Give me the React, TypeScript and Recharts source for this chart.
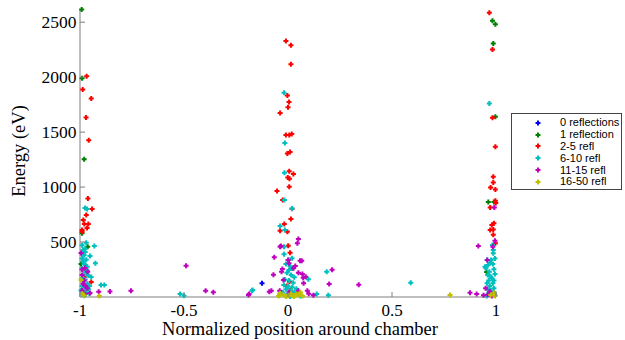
import React from 'react';
import { ScatterChart, Scatter, XAxis, YAxis } from 'recharts';

const xTicks = [-1, -0.5, 0, 0.5, 1];
const xTickLabels: Record<string, string> = { '-1': '-1', '-0.5': '-0.5', '0': '0', '0.5': '0.5', '1': '1' };
const yTicks = [500, 1000, 1500, 2000, 2500];
const xDomain = [-1, 1];
const yDomain = [0, 2620];

const seriesNames = ['0 reflections', '1 reflection', '2-5 refl', '6-10 refl', '11-15 refl', '16-50 refl'];
const seriesColors = ['#0000ff', '#008000', '#ff0000', '#00bfbf', '#bf00bf', '#bfbf00'];

const refl0: [number, number][] = [[-0.125, 124]];

const refl1: [number, number][] = [
  [-0.992, 2615], [-0.99, 1990], [-0.98, 1254], [-0.99, 579], [-0.963, 457], [-0.995, 300],
  [0.983, 2512], [0.997, 2482], [0.987, 2306], [0.997, 1639], [0.963, 864], [0.99, 864], [0.955, 228],
];

const refl2to5: [number, number][] = [
  [-0.968, 2009], [-0.987, 1888], [-0.946, 1806], [-0.971, 1633], [-0.958, 1427], [-0.962, 897],
  [-0.942, 800], [-0.97, 745], [-0.984, 700], [-0.979, 663], [-0.96, 663], [-0.966, 627],
  [-0.99, 609], [-0.99, 594], [-0.946, 136], [-0.98, 182],
  [-0.01, 2330], [0.014, 2290], [0.014, 2118], [-0.003, 1833], [0.005, 1775], [0.0, 1727],
  [-0.038, 1675], [-0.01, 1473], [0.006, 1473], [0.018, 1482], [-0.003, 1306], [0.01, 1318],
  [0.006, 1145], [0.026, 1118], [-0.001, 1088], [0.007, 1076], [0.006, 1003], [-0.053, 964],
  [-0.026, 882], [0.0195, 803], [0.014, 709], [-0.018, 663], [-0.038, 603], [-0.003, 594],
  [0.001, 466], [0.01, 403], [0.007, 139], [0.01, 60], [-0.005, 100],
  [0.968, 2585], [0.983, 2252], [0.983, 1630], [0.997, 1366], [0.987, 1094], [0.987, 1042],
  [0.974, 997], [0.997, 979], [0.997, 876], [0.999, 855], [0.972, 815], [0.98, 654],
  [0.99, 670], [0.972, 609], [0.987, 615], [0.987, 566], [0.997, 488],
];

const refl6to10: [number, number][] = [
  [-0.976, 810], [-0.966, 800], [-0.931, 464], [-0.926, 306], [-0.899, 109], [-0.883, 109],
  [-0.952, 373], [-0.946, 182], [-0.97, 494],
  [-0.99, 470], [-0.985, 430], [-0.975, 410], [-0.98, 380], [-0.99, 350], [-0.97, 340],
  [-0.985, 320], [-0.975, 290], [-0.965, 275], [-0.99, 260], [-0.98, 240], [-0.97, 220],
  [-0.985, 200], [-0.96, 195], [-0.99, 170], [-0.975, 160], [-0.985, 140], [-0.965, 120],
  [-0.99, 100], [-0.975, 85], [-0.96, 70], [-0.985, 55], [-0.97, 40], [-0.99, 25],
  [-0.98, 12], [-0.955, 30], [-0.995, 60], [-0.98, 300], [-0.975, 440], [-0.99, 390],
  [-0.965, 240], [-0.955, 100],
  [-0.019, 1857], [-0.015, 1400], [-0.017, 1130], [-0.017, 882], [0.0195, 806],
  [-0.038, 645], [-0.015, 609], [-0.019, 457], [-0.019, 388], [0.0195, 352], [0.001, 336],
  [0.005, 245], [0.098, 161], [0.186, 230], [-0.17, 64], [0.138, 27], [0.194, 15],
  [-0.519, 27], [-0.5, 12], [-0.173, 57], [0.59, 130],
  [-0.01, 300], [0.01, 280], [0.02, 260], [-0.005, 220], [0.015, 200], [0.03, 180],
  [-0.015, 160], [0.005, 150], [0.025, 130], [-0.02, 110], [0.0, 95], [0.02, 88],
  [0.04, 75], [-0.01, 70], [0.01, 55], [0.03, 45], [-0.025, 40], [0.0, 30], [0.05, 25],
  [-0.04, 20], [0.02, 15], [0.01, 5], [0.06, 10], [-0.01, 10],
  [0.968, 1760], [0.983, 473], [0.987, 427], [0.987, 397], [0.976, 336], [0.958, 336],
  [0.947, 276], [0.962, 291], [0.968, 230], [0.99, 252], [0.951, 261], [0.975, 185],
  [0.98, 170], [0.985, 124], [0.957, 124], [0.97, 100], [0.99, 80], [0.96, 70],
  [0.975, 60], [0.99, 45], [0.965, 35], [0.98, 25], [0.995, 15], [0.955, 10],
  [0.985, 300], [0.995, 350], [0.97, 310], [0.96, 200], [0.995, 210], [0.99, 150], [0.965, 150],
];

const refl11to15: [number, number][] = [
  [-0.995, 400], [-0.976, 264], [-0.963, 230], [-0.974, 100], [-0.952, 36], [-0.91, 48],
  [-0.856, 50], [-0.755, 57], [-0.99, 250], [-0.98, 150], [-0.99, 200], [-0.975, 27],
  [-0.99, 60], [-0.965, 80], [-0.985, 120],
  [-0.49, 285], [-0.396, 57], [-0.359, 43], [-0.187, 27], [-0.09, 48], [-0.066, 361],
  [-0.07, 203], [-0.034, 464], [0.05, 527], [0.045, 488], [-0.038, 457], [0.001, 336],
  [0.058, 330], [0.066, 330], [0.035, 282], [0.005, 306], [-0.027, 255], [-0.031, 230],
  [0.026, 261], [0.05, 221], [0.069, 209], [0.073, 176], [0.085, 185], [0.093, 57],
  [0.075, 124], [-0.022, 155], [0.212, 248], [0.198, 118], [0.34, 112], [-0.19, 18],
  [0.122, 15], [-0.08, 57], [-0.04, 57], [0.05, 57], [0.01, 27], [0.005, 40], [0.1, 30],
  [0.915, 464], [0.875, 39], [0.907, 27], [0.992, 815], [0.995, 512], [0.985, 457],
  [0.958, 336], [0.95, 79], [0.97, 50], [0.99, 30], [0.96, 20], [0.98, 10], [0.94, 15],
];

const refl16to50: [number, number][] = [
  [-0.907, 9], [-0.995, 155], [-0.99, 30], [-0.98, 15],
  [-0.038, 33], [-0.022, 18], [0.04, 27], [0.054, 18], [0.0, 12], [0.02, 10], [-0.01, 5],
  [0.03, 5], [0.07, 10], [-0.045, 10], [0.06, 40], [0.015, 30],
  [0.779, 18], [0.99, 39], [0.975, 18], [0.995, 8],
];

const seriesData = [refl0, refl1, refl2to5, refl6to10, refl11to15, refl16to50];

const toPts = (a: [number, number][]) => a.map(([x, y]) => ({ x, y }));

const AXIS_GRAY = '#7f7f7f';
const SERIF = '"Liberation Serif", "Times New Roman", serif';
const SANS = '"Liberation Sans", Arial, sans-serif';

const plusPath = (cx: number, cy: number) =>
  `M${cx - 1},${cy - 2.5}h2v1.5h1.5v2h-1.5v1.5h-2v-1.5h-1.5v-2h1.5z`;

const PlusShape = (props: any) => {
  const { cx, cy, fill } = props;
  if (cx == null || cy == null) return null;
  return <path d={plusPath(cx, cy)} fill={fill} stroke="none" />;
};

const LeftTick = (props: any) => {
  const { x, y, payload } = props;
  const ax = x + 3;
  return (
    <g>
      <line x1={ax} x2={ax + 5} y1={y} y2={y} stroke={AXIS_GRAY} />
      <text x={x - 0.5} y={y} dy="0.36em" textAnchor="end" fontFamily={SERIF} fontSize={17.5} fill="#000">
        {payload.value}
      </text>
    </g>
  );
};

const RightTick = (props: any) => {
  const { x, y } = props;
  return <line x1={x} x2={x - 5} y1={y} y2={y} stroke={AXIS_GRAY} />;
};

const BottomTick = (props: any) => {
  const { x, y, payload } = props;
  const lbl = xTickLabels[String(payload.value)] ?? String(payload.value);
  return (
    <g>
      <line x1={x} x2={x} y1={y} y2={y - 5} stroke={AXIS_GRAY} />
      <text x={x} y={y + 18.5} textAnchor="middle" fontFamily={SERIF} fontSize={17} fill="#000">
        {lbl}
      </text>
    </g>
  );
};

const TopTick = (props: any) => {
  const { x, y } = props;
  return <line x1={x} x2={x} y1={y} y2={y + 5} stroke={AXIS_GRAY} />;
};

const XLabel = (props: any) => {
  const vb = props.viewBox || {};
  return (
    <text x={vb.x + vb.width / 2 + 12} y={335} textAnchor="middle" fontFamily={SERIF} fontSize={18.5} fill="#000">
      Normalized position around chamber
    </text>
  );
};

const YLabel = (props: any) => {
  const vb = props.viewBox || {};
  const cy = vb.y + vb.height / 2 - 2;
  return (
    <text x={24.5} y={cy} transform={`rotate(-90, 24.5, ${cy})`} textAnchor="middle" fontFamily={SERIF} fontSize={18.5} fill="#000">
      Energy (eV)
    </text>
  );
};

const LegendBox = () => (
  <div
    style={{
      position: 'absolute',
      left: 511,
      top: 113,
      width: 111,
      height: 77,
      border: '1px solid #444',
      background: '#fff',
      boxSizing: 'border-box',
      paddingTop: 3,
    }}
  >
    {seriesNames.map((n, i) => (
      <div key={n} style={{ height: 11.8, display: 'flex', alignItems: 'center', position: 'relative' }}>
        <svg width={8} height={8} style={{ position: 'absolute', left: 22 }}>
          <path d={plusPath(4, 4)} fill={seriesColors[i]} />
        </svg>
        <span style={{ position: 'absolute', left: 48, fontFamily: SANS, fontSize: 11, color: '#000', lineHeight: '11px', whiteSpace: 'nowrap' }}>
          {n}
        </span>
      </div>
    ))}
  </div>
);

export default function App() {
  return (
    <div style={{ position: 'absolute', left: 0, top: 0, width: 625, height: 340, background: '#fff' }}>
      <ScatterChart width={625} height={340} margin={{ top: 9, right: 129, bottom: 0, left: 0 }}>
        <XAxis
          xAxisId="bottom"
          dataKey="x"
          type="number"
          domain={xDomain}
          ticks={xTicks}
          orientation="bottom"
          height={43}
          tickSize={0}
          tickMargin={0}
          tickLine={false}
          stroke={AXIS_GRAY}
          tick={<BottomTick />}
          interval={0}
          label={<XLabel />}
        />
        <XAxis
          xAxisId="top"
          type="number"
          domain={xDomain}
          ticks={xTicks}
          orientation="top"
          height={0}
          tickSize={0}
          tickMargin={0}
          tickLine={false}
          stroke={AXIS_GRAY}
          tick={<TopTick />}
          interval={0}
          allowDataOverflow
        />
        <YAxis
          yAxisId="left"
          dataKey="y"
          type="number"
          domain={yDomain}
          ticks={yTicks}
          orientation="left"
          width={80}
          tickSize={0}
          tickMargin={3}
          tickLine={false}
          stroke={AXIS_GRAY}
          tick={<LeftTick />}
          interval={0}
          label={<YLabel />}
        />
        <YAxis
          yAxisId="right"
          type="number"
          domain={yDomain}
          ticks={yTicks}
          orientation="right"
          width={0}
          tickSize={0}
          tickMargin={0}
          tickLine={false}
          stroke="#222"
          tick={<RightTick />}
          interval={0}
          allowDataOverflow
        />
        {seriesData.map((d, i) => (
          <Scatter
            key={seriesNames[i]}
            name={seriesNames[i]}
            data={toPts(d)}
            xAxisId="bottom"
            yAxisId="left"
            fill={seriesColors[i]}
            shape={<PlusShape />}
            isAnimationActive={false}
          />
        ))}
      </ScatterChart>
      <LegendBox />
    </div>
  );
}
